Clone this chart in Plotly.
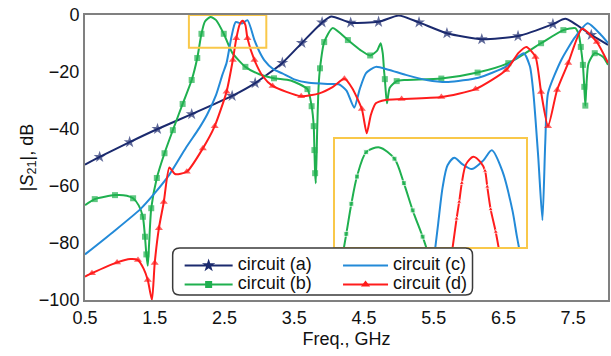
import plotly.graph_objects as go

# ---------------- data ----------------
freq_ticks = [0.5, 1.5, 2.5, 3.5, 4.5, 5.5, 6.5, 7.5]
s21_ticks = [0, -20, -40, -60, -80, -100]
names = ["circuit (a)", "circuit (b)", "circuit (c)", "circuit (d)"]

a_freq = [0.5, 0.71, 1.14, 1.54, 2.03, 2.61, 2.94, 3.33, 3.61, 3.9, 4.03, 4.31, 4.71, 5.0, 5.29, 5.69, 6.19, 6.71, 7.21, 7.39, 7.76, 8.0]
a_s21 = [-52.5, -49.8, -44.6, -40.0, -34.8, -28.4, -23.9, -16.8, -9.8, -2.6, -0.5, -2.7, -2.4, -0.2, -2.6, -6.4, -8.5, -7.4, -3.2, -1.3, -7.0, -10.5]
a_marked = [0, 1, 1, 1, 1, 1, 1, 1, 1, 1, 0, 1, 1, 0, 1, 1, 1, 1, 1, 0, 1, 0]

b_freq = [0.5, 0.64, 0.93, 1.1, 1.19, 1.27, 1.33, 1.36, 1.38, 1.40, 1.42, 1.45, 1.53, 1.64, 1.76, 1.90,
          2.03, 2.11, 2.17, 2.22, 2.30, 2.38, 2.49, 2.61, 2.80, 3.00, 3.21, 3.45, 3.69, 3.75, 3.78, 3.79,
          3.80, 3.81, 3.83, 3.85, 3.87, 3.93, 4.05, 4.27, 4.45, 4.59, 4.69, 4.74, 4.77, 4.79, 4.80, 4.83,
          4.87, 4.97, 5.10, 5.61, 6.13, 6.57, 7.04, 7.36, 7.53, 7.58, 7.61, 7.64, 7.66, 7.675, 7.69, 7.72,
          7.81, 7.93, 8.0]
b_s21 = [-66.7, -64.6, -63.2, -63.4, -64.3, -66.8, -70.8, -77.8, -84.0, -88.0, -80.0, -67.8, -57.2, -48.5, -40.4, -31.2,
         -22.8, -15.1, -6.6, -2.3, -0.7, -1.8, -6.6, -13.2, -18.2, -20.8, -22.2, -23.0, -26.0, -32.0, -39.0, -47.4,
         -55.5, -59.0, -40.0, -25.0, -18.7, -9.5, -4.6, -8.8, -12.3, -14.2, -12.5, -9.9, -13.5, -20.0, -22.5, -31.0,
         -25.5, -23.2, -22.8, -22.3, -20.2, -16.9, -9.9, -5.3, -4.6, -6.8, -11.2, -17.5, -25.2, -31.8, -25.0, -17.0,
         -13.4, -14.7, -17.5]
b_marked = [0, 1, 1, 0, 1, 0, 1, 1, 1, 0, 0, 1, 1, 1, 1, 1,
            1, 1, 1, 0, 0, 0, 1, 0, 1, 0, 1, 0, 1, 1, 1, 1,
            1, 0, 0, 0, 1, 1, 0, 1, 0, 1, 0, 0, 0, 0, 1, 0,
            0, 1, 0, 1, 1, 1, 1, 1, 0, 0, 1, 1, 1, 1, 0, 0,
            1, 0, 0]

c_freq = [0.5, 0.9, 1.29, 1.5, 1.71, 1.95, 2.14, 2.25, 2.38, 2.47, 2.53, 2.6, 2.66, 2.75, 2.83, 2.93, 3.0, 3.07,
          3.2, 3.33, 3.5, 3.71, 4.0, 4.14, 4.25, 4.36, 4.44, 4.53, 4.67, 4.85, 5.1, 5.4, 5.71, 6.14, 6.53, 6.79,
          6.88, 6.93, 7.0, 7.06, 7.1, 7.14, 7.33, 7.53, 7.71, 7.9, 8.0]
c_s21 = [-84.0, -76.2, -68.2, -62.5, -56.0, -46.5, -39.6, -35.0, -28.0, -21.0, -16.8, -7.7, -2.5, -3.0, -1.8, -8.8, -12.8, -15.8,
         -19.0, -20.5, -22.6, -23.8, -24.2, -24.3, -26.5, -32.5, -26.0, -20.4, -18.2, -19.2, -21.0, -22.8, -23.5, -22.0, -18.2, -13.4,
         -18.0, -27.4, -50.0, -72.0, -45.0, -27.4, -15.8, -7.7, -2.9, -7.0, -9.8]

d_freq = [0.5, 0.6, 0.96, 1.15, 1.26, 1.34, 1.40, 1.46, 1.50, 1.56, 1.63, 1.71, 1.79, 1.96, 2.19, 2.36, 2.53, 2.62,
          2.67, 2.72, 2.76, 2.80, 2.83, 2.93, 3.05, 3.19, 3.6, 3.86, 4.05, 4.22, 4.33, 4.47, 4.54, 4.6, 4.67, 4.81,
          5.04, 5.61, 6.10, 6.54, 6.72, 6.83, 6.96, 7.04, 7.14, 7.27, 7.43, 7.63, 7.84, 8.0]
d_s21 = [-91.8, -90.6, -86.8, -85.6, -86.0, -89.0, -93.0, -100.0, -87.0, -74.8, -65.6, -53.5, -55.8, -55.0, -46.8, -39.0, -26.9, -15.8,
         -8.2, -3.2, -2.0, -3.5, -8.2, -15.8, -21.5, -24.9, -28.5, -27.5, -25.3, -22.4, -25.6, -33.0, -41.5, -35.0, -31.0, -29.8,
         -29.5, -28.8, -26.0, -19.3, -13.2, -11.2, -14.7, -27.0, -39.0, -26.3, -16.8, -4.8, -9.5, -16.8]
d_marked = [0, 1, 1, 0, 1, 0, 1, 0, 1, 1, 1, 0, 0, 1, 1, 1, 1, 1,
            1, 0, 0, 0, 1, 1, 0, 1, 1, 0, 0, 1, 0, 1, 0, 0, 0, 0,
            1, 1, 1, 1, 0, 0, 1, 1, 1, 1, 1, 0, 1, 0]

# inset (zoomed passband view)
ins_b_freq = [2.085, 2.11, 2.137, 2.167, 2.216, 2.287, 2.367, 2.417, 2.464, 2.517, 2.56]
ins_b_s21 = [-13.0, -10.1, -6.9, -4.0, -1.4, -0.9, -2.1, -4.7, -7.6, -10.4, -13.0]
ins_b_marked = [0, 1, 1, 1, 1, 0, 1, 1, 1, 1, 0]

ins_c_freq = [2.576, 2.6, 2.624, 2.65, 2.686, 2.73, 2.78, 2.84, 2.886, 2.942, 2.996, 3.02, 3.045]
ins_c_s21 = [-13.0, -9.0, -5.1, -2.8, -2.0, -2.7, -3.2, -2.3, -1.2, -3.4, -7.6, -10.4, -13.0]

ins_d_freq = [2.667, 2.698, 2.712, 2.726, 2.748, 2.787, 2.827, 2.85, 2.862, 2.88, 2.907, 2.935]
ins_d_s21 = [-13.0, -8.5, -6.7, -4.7, -2.7, -1.9, -2.5, -3.4, -5.1, -7.5, -9.9, -13.0]
ins_d_marked = [0, 1, 1, 1, 0, 0, 0, 1, 1, 1, 1, 0]

# ---------------- style ----------------
NAVY, GREEN, BLUE, RED = "#1B2A6E", "#1FB04F", "#238AD8", "#FF1C1C"
GOLD = "#F9C84A"
FRAME = "#808080"
FONT = "Liberation Sans, Arial, sans-serif"
LW = 2


def sizes(marked, s):
    return [s if m else 0 for m in marked]


fig = go.Figure()

main = [
    (a_freq, a_s21, a_marked, NAVY, "star", 9),
    (b_freq, b_s21, b_marked, GREEN, "square", 6),
    (c_freq, c_s21, None, BLUE, None, 0),
    (d_freq, d_s21, d_marked, RED, "triangle-up", 7),
]
for fx, fy, mk, col, sym, ms in main:
    if mk is None:
        fig.add_trace(go.Scatter(x=fx, y=fy, mode="lines", line=dict(color=col, width=LW, shape="spline", smoothing=0.6),
                                 showlegend=False, hoverinfo="skip"))
    else:
        fig.add_trace(go.Scatter(x=fx, y=fy, mode="lines+markers",
                                 line=dict(color=col, width=LW, shape="spline", smoothing=0.6),
                                 marker=dict(symbol=sym, size=sizes(mk, ms), color=col, line=dict(width=0)),
                                 showlegend=False, hoverinfo="skip"))

inset = [
    (ins_b_freq, ins_b_s21, ins_b_marked, GREEN, "square", 5),
    (ins_c_freq, ins_c_s21, None, BLUE, None, 0),
    (ins_d_freq, ins_d_s21, ins_d_marked, RED, "triangle-up", 5),
]
for fx, fy, mk, col, sym, ms in inset:
    tr = dict(x=fx, y=fy, xaxis="x2", yaxis="y2", showlegend=False, hoverinfo="skip",
              line=dict(color=col, width=LW, shape="spline", smoothing=0.8))
    if mk is None:
        fig.add_trace(go.Scatter(mode="lines", **tr))
    else:
        fig.add_trace(go.Scatter(mode="lines+markers",
                                 marker=dict(symbol=sym, size=sizes(mk, ms), color=col), **tr))

# legend entries
leg_info = [
    (names[0], NAVY, "star", 10, "legend"),
    (names[1], GREEN, "square", 7, "legend"),
    (names[2], BLUE, None, 0, "legend2"),
    (names[3], RED, "triangle-up", 8, "legend2"),
]
for nm, col, sym, ms, lg in leg_info:
    label = '<span style="font-size:18px">' + nm + '</span>'
    if sym is None:
        fig.add_trace(go.Scatter(x=[None], y=[None], mode="lines", name=label,
                                 line=dict(color=col, width=LW), legend=lg))
    else:
        fig.add_trace(go.Scatter(x=[None], y=[None], mode="lines+markers", name=label,
                                 line=dict(color=col, width=LW), marker=dict(symbol=sym, size=ms, color=col),
                                 legend=lg))

W, H = 611, 356
ml, mr, mt, mb = 85, 1, 15, 56
pw, ph = W - ml - mr, H - mt - mb


def px2paper(px, py):
    return (px - ml) / pw, (H - mb - py) / ph


# rounded legend box
x0, y0 = px2paper(173, 295)
x1, y1 = px2paper(474, 248)
rx, ry = 7 / pw, 7 / ph
path = (f"M{x0+rx},{y0} L{x1-rx},{y0} Q{x1},{y0} {x1},{y0+ry} L{x1},{y1-ry} Q{x1},{y1} {x1-rx},{y1} "
        f"L{x0+rx},{y1} Q{x0},{y1} {x0},{y1-ry} L{x0},{y0+ry} Q{x0},{y0} {x0+rx},{y0} Z")

lx1, ly = px2paper(180, 251)
lx2, _ = px2paper(339, 251)
ix0, iy0 = px2paper(336, 247)
ix1, iy1 = px2paper(528, 139)

fig.update_layout(
    width=W, height=H,
    margin=dict(l=ml, r=mr, t=mt, b=mb),
    paper_bgcolor="white", plot_bgcolor="white",
    font=dict(family=FONT, size=18, color="#111111"),
    xaxis=dict(range=[0.5, 8.0], tickvals=freq_ticks, ticks="", showgrid=False, zeroline=False,
               showline=True, mirror=True, linecolor=FRAME, linewidth=2,
               title=dict(text="Freq., GHz", font=dict(size=18), standoff=6)),
    yaxis=dict(range=[-100, 0], tickvals=s21_ticks, ticks="", showgrid=False, zeroline=False,
               showline=True, mirror=True, linecolor=FRAME, linewidth=2,
               title=dict(text="|<i>S</i><sub>21</sub>|, dB", font=dict(size=18), standoff=1)),
    xaxis2=dict(domain=[ix0, ix1], anchor="y2", range=[2.05, 3.07], showticklabels=False, ticks="",
                showgrid=False, zeroline=False, showline=True, mirror=True, linecolor=GOLD, linewidth=2),
    yaxis2=dict(domain=[iy0, iy1], anchor="x2", range=[-11.5, 0], showticklabels=False, ticks="",
                showgrid=False, zeroline=False, showline=True, mirror=True, linecolor=GOLD, linewidth=2),
    legend=dict(x=lx1, y=ly, xanchor="left", yanchor="top", bgcolor="rgba(0,0,0,0)", borderwidth=0,
                font=dict(size=12, family=FONT), itemwidth=48, tracegroupgap=0),
    legend2=dict(x=lx2, y=ly, xanchor="left", yanchor="top", bgcolor="rgba(0,0,0,0)", borderwidth=0,
                 font=dict(size=12, family=FONT), itemwidth=45, tracegroupgap=0),
    shapes=[
        dict(type="rect", xref="x", yref="y", x0=1.99, x1=3.1, y0=-11.5, y1=0,
             line=dict(color=GOLD, width=2), layer="above"),
        dict(type="path", xref="paper", yref="paper", path=path, fillcolor="white",
             line=dict(color="#3a3a3a", width=1.5), layer="above"),
    ],
)

fig.write_html("out.html", config={"displayModeBar": False},
               post_script="document.body.style.margin='0';document.body.style.padding='0';")
